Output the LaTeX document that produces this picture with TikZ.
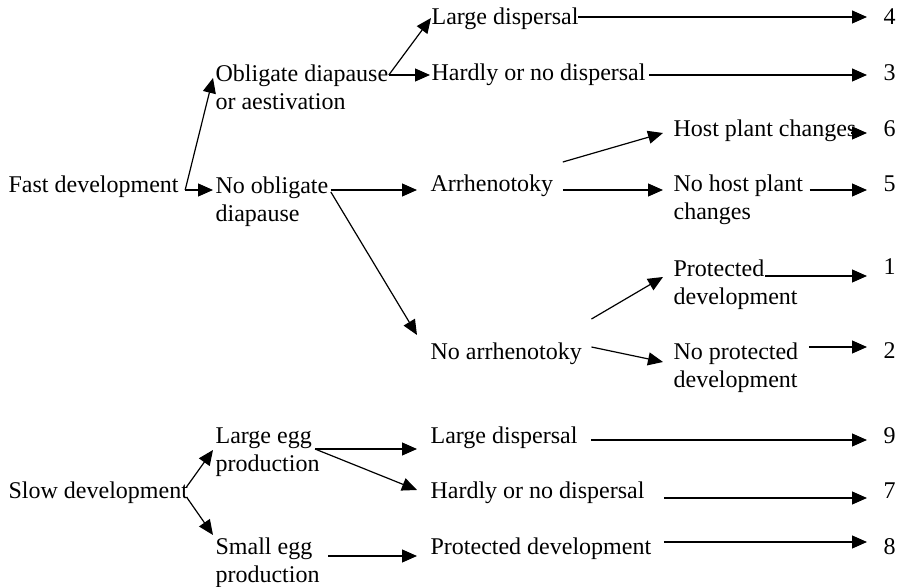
\documentclass[tikz,border=0pt]{standalone}
\usepackage{fontspec}
\setmainfont{Liberation Serif}
\usepackage{tikz}
\usetikzlibrary{arrows.meta}

\begin{document}
\begin{tikzpicture}[x=0.5pt,y=-0.5pt,
  every node/.style={anchor=base west,inner sep=0pt,align=left,font=\fontsize{12pt}{13.8pt}\selectfont},
  >={Triangle[length=7.5pt,width=6.5pt]},line width=0.6pt]
\useasboundingbox (0,0) rectangle (901,587);
% two-line nodes sit on the baseline of their last line
\node(fast) at (8,193) {Fast development};
%
\node(obl) at (215,109.6) {Obligate diapause\\or aestivation};
\node(noobl) at (215,221.6) {No obligate\\diapause};
\draw[->]([shift={(6,-3)}]fast.base east) -- ([shift={(-2,-31.6)}]obl.base west);
\draw[->]([shift={(6,-3)}]fast.base east) -- ([shift={(-2,-31.6)}]noobl.base west);
%
\node(ld1) at (431,25) {Large dispersal};
\node(hd1) at (431,81) {Hardly or no dispersal};
\draw[->]([shift={(0,-34.6)}]obl.base east) -- ([shift={(0,-7)}]ld1.base west);
\draw[->]([shift={(0,-34.6)}]obl.base east) -- ([shift={(-1,-6)}]hd1.base west);
%
\node(res4) at (883,25) {4};
\node(res3) at (883,81) {3};
\draw[->]([shift={(-1,-8)}]ld1.base east) -- ([shift={(-16,-8)}]res4.base west);
\draw[->]([shift={(3,-6)}]hd1.base east) -- ([shift={(-16,-6)}]res3.base west);
%
\node(arr) at (430,192) {Arrhenotoky};
\node(noarr) at (430,360) {No arrhenotoky};
\draw[->]([shift={(2,-31.6)}]noobl.base east) -- ([shift={(-13,-2)}]arr.base west);
\draw[->]([shift={(2,-29.6)}]noobl.base east) -- ([shift={(-13,-25)}]noarr.base west);
%
\node(host) at (673,137) {Host plant changes};
\node(nohost) at (673,219.6) {No host plant\\changes};
\draw[->]([shift={(9,-30)}]arr.base east) -- ([shift={(-10,-4)}]host.base west);
\draw[->]([shift={(9,-2)}]arr.base east) -- ([shift={(-10,-29.6)}]nohost.base west);
%
\node(res6) at (883,137) {6};
\node(res5) at (883,192) {5};
\draw[->]([shift={(-6,-4)}]host.base east) -- ([shift={(-16,-4)}]res6.base west);
\draw[->]([shift={(6,-29.6)}]nohost.base east) -- ([shift={(-16,-2)}]res5.base west);
%
\node(prot) at (673,304.6) {Protected\\development};
\node(noprot) at (673,387.6) {No protected\\development};
\draw[->]([shift={(9,-41)}]noarr.base east) -- ([shift={(-10,-27.6)}]prot.base west);
\draw[->]([shift={(9,-13)}]noarr.base east) -- ([shift={(-10,-25.6)}]noprot.base west);
%
\node(res1) at (883,275) {1};
\node(res2) at (883,359) {2};
\draw[->]([shift={(92,-28.6)}]prot.base west) -- ([shift={(-16,1)}]res1.base west);
\draw[->]([shift={(10,-40.6)}]noprot.base east) -- ([shift={(-16,-12)}]res2.base west);
%
\node(slow) at (8,499) {Slow development};
\node(legg) at (215,471.6) {Large egg\\production};
\node(segg) at (215,582.6) {Small egg\\production};
\draw[->]([shift={(-2,-12)}]slow.base east) -- ([shift={(-2,-21.6)}]legg.base west);
\draw[->]([shift={(-2,-2)}]slow.base east) -- ([shift={(-2,-47.6)}]segg.base west);
%
\node(ld2) at (430,444) {Large dispersal};
\node(hd2) at (430,499) {Hardly or no dispersal};
\node(pd) at (430,555) {Protected development};
\draw[->]([shift={(100,-22.6)}]legg.base west) -- ([shift={(-13,5)}]ld2.base west);
\draw[->]([shift={(100,-22.6)}]legg.base west) -- ([shift={(-13,-9)}]hd2.base west);
\draw[->]([shift={(113,-26.6)}]segg.base west) -- ([shift={(-13,1)}]pd.base west);
%
\node(res9) at (883,444) {9};
\node(res7) at (883,499) {7};
\node(res8) at (883,555) {8};
\draw[->]([shift={(13,-4)}]ld2.base east) -- ([shift={(-16,-4)}]res9.base west);
\draw[->]([shift={(19,-1)}]hd2.base east) -- ([shift={(-16,-1)}]res7.base west);
\draw[->]([shift={(12,-13)}]pd.base east) -- ([shift={(-16,-13)}]res8.base west);
\end{tikzpicture}
\end{document}
